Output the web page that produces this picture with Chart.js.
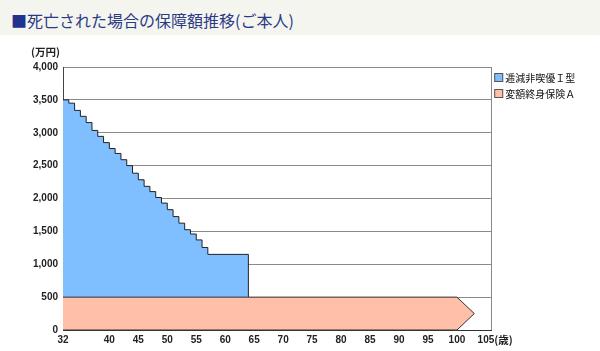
<!DOCTYPE html>
<html lang="ja">
<head>
<meta charset="utf-8">
<title>死亡された場合の保障額推移</title>
<script src="https://cdn.jsdelivr.net/npm/chart.js@4.4.1/dist/chart.umd.min.js"></script>
<style>
  html, body { margin: 0; padding: 0; background: #fff; }
  .heading {
    height: 35px; overflow: hidden; box-sizing: border-box;
    padding-left: 11px; background: #f5f5f0;
    font-family: "Noto Sans CJK JP", sans-serif; font-size: 16px;
    line-height: 41px; color: #2c3a86; white-space: nowrap;
  }
  .heading .mark { color: #22338e; }
  .chartBox { position: relative; width: 600px; height: 316px; }
</style>
</head>
<body>
<div class="heading"><span class="mark">■</span>死亡された場合の保障額推移(ご本人)</div>
<div class="chartBox"><canvas id="coverChart"></canvas></div>

<script>
//Data
const seriesNames = ['逓減非喫優Ｉ型', '変額終身保険Ａ'];

// decreasing term cover (top edge of the blue steps, sits on top of the 500 base)
const termAges  = [32, 33, 34, 35, 36, 37, 38, 39, 40, 41, 42, 43, 44, 45, 46, 47, 48, 49, 50, 51, 52, 53, 54, 55, 56, 57, 64];
const termCover = [3500, 3450, 3340, 3250, 3155, 3035, 2945, 2850, 2760, 2685, 2590, 2500, 2385, 2285, 2185, 2105, 2015, 1930, 1830, 1725, 1625, 1525, 1460, 1370, 1255, 1150, 500];
const termBase = 500;

// whole life cover, drawn as a band ending in an arrow
const wholeLifeAges  = [32, 100, 103, 100, 32];
const wholeLifeCover = [500, 500, 250, 0, 0];

const ageTicks = [32, 40, 45, 50, 55, 60, 65, 70, 75, 80, 85, 90, 95, 100, 105];
const ageMin = 32;
const ageMax = 106;
const coverMax = 4000;
const coverStep = 500;

const colors = ['#80bfff', '#ffbfa8'];
const legendOrder = [1, 0];

//Helpers
const toPoints = (xs, ys) => xs.map((x, i) => ({x: x, y: ys[i]}));
const tickFont = {family: '"Liberation Sans", Arial, sans-serif', size: 10, weight: 'bold'};

// "(万円)", "(歳)" and the legend at the right of the plot
const extraLabels = {
  id: 'extraLabels',
  afterDraw(chart) {
    const {ctx, chartArea, scales} = chart;
    ctx.save();
    ctx.fillStyle = '#222';
    ctx.textBaseline = 'middle';

    ctx.font = 'bold 10.5px "Noto Sans CJK JP", sans-serif';
    ctx.textAlign = 'right';
    ctx.fillText('(万円)', chartArea.left - 3, chartArea.top - 15);

    ctx.font = 'bold 10px "Liberation Sans", Arial, sans-serif';
    const lastTick = ageTicks[ageTicks.length - 1];
    const tickX = scales.x.getPixelForValue(lastTick) + ctx.measureText(String(lastTick)).width / 2;
    ctx.textAlign = 'left';
    ctx.font = 'bold 10.5px "Noto Sans CJK JP", sans-serif';
    ctx.fillText('(歳)', tickX, chartArea.bottom + 10.5);

    ctx.font = '10px "Noto Sans CJK JP", sans-serif';
    legendOrder.forEach((dsIndex, i) => {
      const ds = chart.data.datasets[dsIndex];
      const bx = chartArea.right + 2.5;
      const by = chartArea.top + 6 + i * 16;
      ctx.fillStyle = ds.backgroundColor;
      ctx.fillRect(bx, by, 9, 9);
      ctx.strokeStyle = '#555';
      ctx.lineWidth = 1;
      ctx.strokeRect(bx + 0.5, by + 0.5, 8, 8);
      ctx.fillStyle = '#111';
      ctx.fillText(ds.label, bx + 11, by + 5);
    });
    ctx.restore();
  }
};

//Chart
const coverChart = new Chart(document.getElementById('coverChart'), {
  type: 'line',
  data: {
    datasets: [
      {
        label: seriesNames[1],
        data: toPoints(wholeLifeAges, wholeLifeCover),
        backgroundColor: colors[1],
        borderColor: '#333',
        borderWidth: 1,
        fill: 'shape',
        pointRadius: 0
      },
      {
        label: seriesNames[0],
        data: toPoints(termAges, termCover),
        backgroundColor: colors[0],
        borderColor: '#222',
        borderWidth: 1,
        stepped: true,
        fill: {value: termBase},
        pointRadius: 0
      }
    ]
  },
  options: {
    responsive: true,
    maintainAspectRatio: false,
    animation: false,
    events: [],
    layout: {padding: {left: 0, top: 32, right: 108.3, bottom: 0}},
    plugins: {
      legend: {display: false},
      tooltip: {enabled: false}
    },
    scales: {
      x: {
        type: 'linear',
        min: ageMin,
        max: ageMax,
        afterBuildTicks: (axis) => {
          axis.ticks = ageTicks.concat([ageMax]).map(value => ({value: value}));
        },
        afterFit: (axis) => { axis.height = 21; },
        ticks: {
          autoSkip: false,
          maxRotation: 0,
          padding: 4,
          color: '#222',
          font: tickFont,
          callback: (value) => value === ageMax ? '' : value
        },
        grid: {
          drawTicks: false,
          lineWidth: 1,
          color: (ctx) => ctx.tick && ctx.tick.value === ageMax ? '#8a8a8a' : 'rgba(0,0,0,0)'
        },
        border: {color: '#333'}
      },
      y: {
        min: 0,
        max: coverMax,
        afterFit: (axis) => { axis.width = 63; },
        ticks: {
          stepSize: coverStep,
          padding: 5,
          color: '#222',
          font: tickFont,
          callback: (value) => value.toLocaleString('en-US')
        },
        grid: {drawTicks: false, color: '#8a8a8a', lineWidth: 1},
        border: {color: '#444'}
      }
    }
  },
  plugins: [extraLabels]
});
</script>
</body>
</html>
